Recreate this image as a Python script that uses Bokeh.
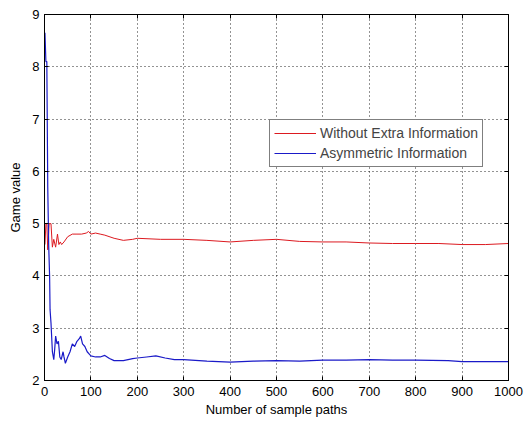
from bokeh.plotting import figure
from bokeh.models import LinearAxis, Legend, LegendItem, FixedTicker, Range1d
from bokeh.embed import file_html
from bokeh.resources import INLINE

# Data
blue_x = [1, 3, 5, 7, 9, 11, 12, 14, 17, 20, 22, 24, 27, 30, 33, 36, 40, 42, 45, 50,
          55, 60, 65, 70, 75, 78, 82, 87, 92, 97, 100, 110, 120, 130, 140, 150, 170,
          190, 200, 220, 240, 260, 280, 300, 350, 400, 450, 500, 550, 600, 650, 700,
          750, 800, 870, 900, 950, 1000]
blue_y = [8.65, 8.1, 8.1, 5.7, 4.6, 4.0, 3.35, 3.1, 2.55, 2.4, 2.6, 2.85, 2.7, 2.75,
          2.45, 2.4, 2.55, 2.45, 2.33, 2.45, 2.55, 2.7, 2.65, 2.75, 2.8, 2.85, 2.7,
          2.65, 2.55, 2.5, 2.47, 2.45, 2.45, 2.48, 2.42, 2.38, 2.38, 2.42, 2.43, 2.45,
          2.47, 2.43, 2.40, 2.40, 2.37, 2.35, 2.37, 2.38, 2.37, 2.39, 2.39, 2.40, 2.39,
          2.39, 2.38, 2.36, 2.36, 2.36]

red_x = [1, 3, 5, 7, 10, 14, 17, 20, 24, 28, 31, 34, 37, 42, 50, 60, 70, 80, 90, 95,
         100, 110, 120, 130, 150, 170, 190, 200, 250, 300, 350, 400, 450, 500, 550,
         600, 650, 700, 750, 800, 850, 900, 950, 1000]
red_y = [4.6, 5.0, 5.0, 4.5, 5.0, 5.0, 4.55, 4.7, 4.55, 4.8, 4.6, 4.65, 4.6, 4.65,
         4.75, 4.8, 4.8, 4.8, 4.82, 4.85, 4.8, 4.82, 4.8, 4.78, 4.72, 4.68, 4.7, 4.72,
         4.7, 4.7, 4.68, 4.65, 4.68, 4.7, 4.66, 4.65, 4.65, 4.63, 4.62, 4.62, 4.62,
         4.6, 4.6, 4.62]

x_ticks = [0, 100, 200, 300, 400, 500, 600, 700, 800, 900, 1000]
y_ticks = [2, 3, 4, 5, 6, 7, 8, 9]
series_names = ["Without Extra Information", "Asymmetric Information"]

FONT = "Liberation Sans"

p = figure(width=524, height=422, output_backend="svg", toolbar_location=None,
           x_range=Range1d(0, 1000), y_range=Range1d(2, 9),
           min_border_left=44, min_border_right=16, min_border_top=14,
           min_border_bottom=42, x_axis_label="Number of sample paths",
           y_axis_label="Game value")
p.background_fill_color = "white"
p.border_fill_color = "white"
p.outline_line_color = "black"
p.outline_line_width = 1

for ax, ticks in ((p.xaxis[0], x_ticks), (p.yaxis[0], y_ticks)):
    ax.ticker = FixedTicker(ticks=ticks)
    ax.major_tick_in = 4
    ax.major_tick_out = 0
    ax.minor_tick_line_color = None
    ax.axis_line_color = "black"
    ax.major_tick_line_color = "black"
    ax.major_label_text_font = FONT
    ax.major_label_text_font_size = "13px"
    ax.major_label_text_color = "black"
    ax.axis_label_text_font = FONT
    ax.axis_label_text_font_size = "13px"
    ax.axis_label_text_font_style = "normal"
    ax.axis_label_text_color = "black"
p.xaxis[0].major_label_standoff = 6
p.xaxis[0].axis_label_standoff = 3
p.yaxis[0].major_label_standoff = 5
p.yaxis[0].axis_label_standoff = 6

for loc, ticks in (("right", y_ticks), ("above", x_ticks)):
    ax = LinearAxis(ticker=FixedTicker(ticks=ticks), major_label_text_font_size="0px",
                    major_tick_in=4, major_tick_out=0, minor_tick_line_color=None,
                    major_label_standoff=0)
    ax.major_label_text_color = None
    p.add_layout(ax, loc)

p.xgrid.ticker = FixedTicker(ticks=x_ticks)
p.ygrid.ticker = FixedTicker(ticks=y_ticks)
p.grid.grid_line_color = "black"
p.grid.grid_line_dash = "1 3"
p.grid.grid_line_alpha = 0.85

r1 = p.line(red_x, red_y, line_color="#dc1a20", line_width=1)
r2 = p.line(blue_x, blue_y, line_color="#1a1ac8", line_width=1.2)

legend = Legend(items=[LegendItem(label=series_names[0], renderers=[r1]),
                       LegendItem(label=series_names[1], renderers=[r2])],
                location=(225, 213), label_text_font=FONT,
                label_text_font_size="14px", glyph_width=42, glyph_height=18,
                label_height=18, spacing=2, padding=4, margin=0,
                border_line_color="black", border_line_width=1,
                background_fill_alpha=1.0, label_standoff=4)
p.add_layout(legend)

open("out.html", "w").write(file_html(p, INLINE))
